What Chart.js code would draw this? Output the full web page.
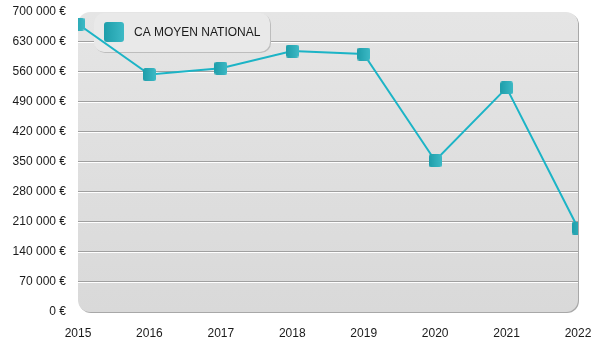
<!DOCTYPE html>
<html>
<head>
<meta charset="utf-8">
<script src="https://cdn.jsdelivr.net/npm/chart.js@4"></script>
<style>
  html, body { margin: 0; padding: 0; background: #ffffff; }
  #wrap { width: 600px; height: 350px; position: relative; }
</style>
</head>
<body>
<div id="wrap"><canvas id="chart" width="600" height="350"></canvas></div>
<script>
// Average national turnover per year
const years = ['2015', '2016', '2017', '2018', '2019', '2020', '2021', '2022'];
const caMoyen = [672000, 554000, 569000, 609000, 602000, 353000, 523000, 196000];
const seriesLabel = 'CA MOYEN NATIONAL';
const yTickValues = [0, 70000, 140000, 210000, 280000, 350000, 420000, 490000, 560000, 630000, 700000];

const FONT = '"Liberation Sans", Arial, sans-serif';
const TEAL_LINE = '#1cb4c6';

function euro(v) {
  const s = String(Math.round(v)).replace(/\B(?=(\d{3})+(?!\d))/g, ' ');
  return s + ' \u20ac';
}

function roundRect(ctx, x, y, w, h, r) {
  ctx.beginPath();
  ctx.moveTo(x + r, y);
  ctx.lineTo(x + w - r, y);
  ctx.arcTo(x + w, y, x + w, y + r, r);
  ctx.lineTo(x + w, y + h - r);
  ctx.arcTo(x + w, y + h, x + w - r, y + h, r);
  ctx.lineTo(x + r, y + h);
  ctx.arcTo(x, y + h, x, y + h - r, r);
  ctx.lineTo(x, y + r);
  ctx.arcTo(x, y, x + r, y, r);
  ctx.closePath();
}

// Rounded teal square used as point marker and legend swatch
function makeSwatch(size, radius) {
  const c = document.createElement('canvas');
  c.width = size; c.height = size;
  const g = c.getContext('2d');
  const grad = g.createLinearGradient(0, 0, size, 0);
  grad.addColorStop(0, '#1e9eaa');
  grad.addColorStop(1, '#3db9c5');
  g.fillStyle = grad;
  roundRect(g, 0, 0, size, size, radius);
  g.fill();
  return c;
}
const marker = makeSwatch(13, 2.5);
const legendSwatch = makeSwatch(20, 3);

// Plot background panel, embossed grid lines and legend box
const panelPlugin = {
  id: 'panel',
  beforeDraw(chart) {
    const { ctx, chartArea: a } = chart;
    ctx.save();
    // shadow edge
    ctx.fillStyle = '#a8a8a8';
    roundRect(ctx, a.left + 1, a.top + 1, a.right - a.left, a.bottom - a.top, 12);
    ctx.fill();
    const grad = ctx.createLinearGradient(0, a.top, 0, a.bottom);
    grad.addColorStop(0, '#e5e5e5');
    grad.addColorStop(1, '#d9d9d9');
    ctx.fillStyle = grad;
    roundRect(ctx, a.left, a.top, a.right - a.left, a.bottom - a.top, 12);
    ctx.fill();
    ctx.restore();
  },
  beforeDatasetsDraw(chart) {
    const { ctx, chartArea: a, scales: { y } } = chart;
    ctx.save();
    y.ticks.forEach(t => {
      if (t.value <= y.min || t.value >= y.max) return;
      const py = Math.round(y.getPixelForValue(t.value));
      ctx.fillStyle = '#a0a0a0';
      ctx.fillRect(a.left, py - 1, a.right - a.left, 1);
      ctx.fillStyle = '#ffffff';
      ctx.fillRect(a.left, py, a.right - a.left, 1);
    });
    // legend box
    const bx = 94, by = 13, bw = 176, bh = 39;
    ctx.fillStyle = '#bdbdbd';
    roundRect(ctx, bx + 1, by + 1, bw, bh, 10);
    ctx.fill();
    ctx.fillStyle = '#e9e9e9';
    roundRect(ctx, bx, by, bw, bh, 10);
    ctx.fill();
    ctx.drawImage(legendSwatch, 104, 22);
    ctx.fillStyle = '#1a1a1a';
    ctx.font = '12px ' + FONT;
    ctx.textBaseline = 'middle';
    ctx.textAlign = 'left';
    ctx.fillText(chart.data.datasets[0].label, 134, 32.5);
    ctx.restore();
  }
};

new Chart(document.getElementById('chart'), {
  type: 'line',
  data: {
    labels: years,
    datasets: [{
      label: seriesLabel,
      data: caMoyen,
      borderColor: TEAL_LINE,
      borderWidth: 2,
      tension: 0,
      pointStyle: marker,
      pointRadius: 6,
      pointHoverRadius: 6,
      clip: 0
    }]
  },
  options: {
    responsive: false,
    animation: false,
    events: [],
    layout: { padding: { top: 12, right: 22, left: 0, bottom: 0 } },
    plugins: { legend: { display: false }, tooltip: { enabled: false } },
    scales: {
      x: {
        offset: false,
        grid: { display: false, drawTicks: false },
        border: { display: false },
        ticks: { color: '#1a1a1a', font: { family: FONT, size: 12 }, padding: 14, maxRotation: 0 },
        afterFit(s) { s.height = 38; s.paddingLeft = 0; s.paddingRight = 0; }
      },
      y: {
        min: 0,
        max: 700000,
        grid: { display: false, drawTicks: false },
        border: { display: false },
        afterBuildTicks(s) { s.ticks = yTickValues.map(v => ({ value: v })); },
        ticks: {
          color: '#1a1a1a',
          font: { family: FONT, size: 12 },
          padding: 12,
          callback: v => euro(v)
        },
        afterFit(s) { s.width = 78; s.paddingTop = 0; s.paddingBottom = 0; }
      }
    }
  },
  plugins: [panelPlugin]
});
</script>
</body>
</html>
